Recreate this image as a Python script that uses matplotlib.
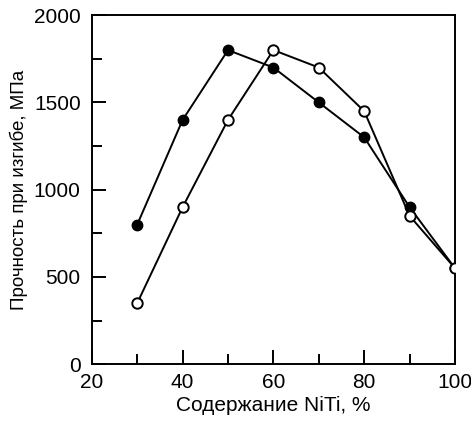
import matplotlib
matplotlib.use("Agg")
import matplotlib.pyplot as plt
from matplotlib.ticker import MultipleLocator

plt.rcParams['font.family'] = ['Liberation Sans', 'DejaVu Sans']

niti = [30, 40, 50, 60, 70, 80, 90, 100]
filled = [800, 1400, 1800, 1700, 1500, 1300, 900, 550]
hollow = [350, 900, 1400, 1800, 1700, 1450, 850, 550]

fig = plt.figure(figsize=(4.71, 4.22), dpi=100)
ax = fig.add_axes([0.195, 0.137, 0.771, 0.827])

ax.plot(niti, filled, color='black', lw=1.4, marker='o', ms=7.5,
        mfc='black', mec='black', zorder=3)
ax.plot(niti, hollow, color='black', lw=1.4, marker='o', ms=7.5,
        mfc='white', mec='black', mew=1.4, zorder=3)

ax.set_xlim(20, 100)
ax.set_ylim(0, 2000)
ax.xaxis.set_major_locator(MultipleLocator(20))
ax.xaxis.set_minor_locator(MultipleLocator(10))
ax.yaxis.set_major_locator(MultipleLocator(500))
ax.yaxis.set_minor_locator(MultipleLocator(250))
ax.tick_params(which='both', direction='in', top=False, right=False,
               labelsize=15, width=1.4)
ax.tick_params(axis='x', pad=6)
ax.tick_params(axis='y', pad=8)
ax.tick_params(which='major', length=10)
ax.tick_params(which='minor', length=7)
for s in ax.spines.values():
    s.set_linewidth(1.4)

ax.set_xlabel("Содержание NiTi, %", fontsize=15, labelpad=3)
ax.set_ylabel("Прочность при изгибе, МПа", fontsize=13.5, labelpad=4)

fig.savefig("out.png", dpi=100)
